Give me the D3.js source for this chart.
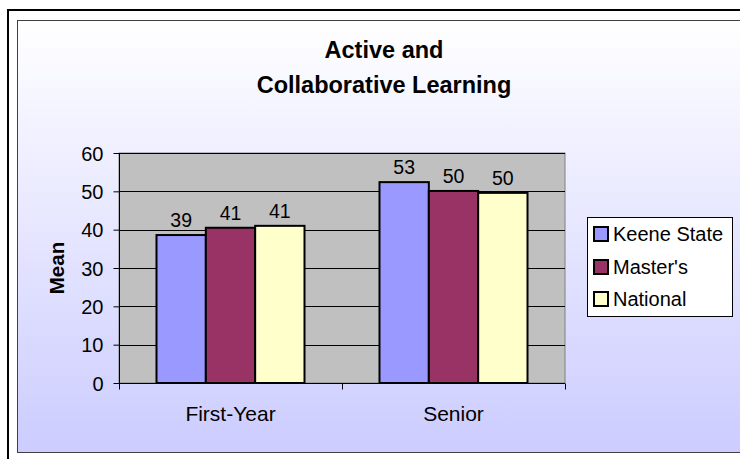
<!DOCTYPE html>
<html><head><meta charset="utf-8">
<script src="https://cdn.jsdelivr.net/npm/d3@7"></script>
<style>body{margin:0;background:#fff}svg{display:block;font-family:"Liberation Sans",Arial,sans-serif}</style>
</head><body>
<svg id="c" width="740" height="459"></svg>
<script>
const categories = ["First-Year", "Senior"];
const seriesNames = ["Keene State", "Master's", "National"];
const keeneState = [38.6, 52.4];
const masters = [40.5, 50.1];
const national = [41.0, 49.6];
const labelsKeene = ["39", "53"];
const labelsMasters = ["41", "50"];
const labelsNational = ["41", "50"];
const yTicks = [0, 10, 20, 30, 40, 50, 60];
const colors = ["#9999FF", "#993366", "#FFFFCC"];

const series = [
  {name: seriesNames[0], values: keeneState, labels: labelsKeene, color: colors[0]},
  {name: seriesNames[1], values: masters, labels: labelsMasters, color: colors[1]},
  {name: seriesNames[2], values: national, labels: labelsNational, color: colors[2]}
];

const svg = d3.select("#c");
const defs = svg.append("defs");
const grad = defs.append("linearGradient").attr("id", "bg").attr("x1", 0).attr("y1", 0).attr("x2", 0).attr("y2", 1);
grad.append("stop").attr("offset", "0%").attr("stop-color", "#FFFFFF");
grad.append("stop").attr("offset", "100%").attr("stop-color", "#CCCCFF");

// outer frame
svg.append("rect").attr("x", 8).attr("y", 10).attr("width", 760).attr("height", 470)
  .attr("fill", "#fff").attr("stroke", "#000").attr("stroke-width", 2);
// chart area
svg.append("rect").attr("x", 17.5).attr("y", 20.5).attr("width", 740).attr("height", 432)
  .attr("fill", "url(#bg)").attr("stroke", "#404040").attr("stroke-width", 1);

// title
const title = svg.append("text").attr("text-anchor", "middle").attr("font-weight", "bold")
  .attr("font-size", 23.5).attr("fill", "#000");
title.append("tspan").attr("x", 384).attr("y", 58).text("Active and");
title.append("tspan").attr("x", 384).attr("y", 93).text("Collaborative Learning");

const plotL = 119, plotR = 565, plotT = 153, plotB = 383;
const x = d3.scaleBand().domain(categories).range([plotL, plotR]);
const xs = d3.scaleBand().domain(seriesNames).range([37.5, x.bandwidth() - 37.5]);
const y = d3.scaleLinear().domain([0, 60]).range([plotB, plotT]);

// plot area
svg.append("rect").attr("x", plotL).attr("y", plotT).attr("width", plotR - plotL).attr("height", plotB - plotT)
  .attr("fill", "#C0C0C0").attr("stroke", "#808080").attr("stroke-width", 1);

// gridlines
svg.append("g").selectAll("line").data(yTicks.filter(d => d > 0)).join("line")
  .attr("x1", plotL).attr("x2", plotR)
  .attr("y1", d => Math.round(y(d)) + 0.5).attr("y2", d => Math.round(y(d)) + 0.5)
  .attr("stroke", "#000").attr("stroke-width", 1);

// bars
const g = svg.append("g");
series.forEach(s => {
  g.selectAll(null).data(categories).join("rect")
    .attr("x", c => x(c) + xs(s.name))
    .attr("y", (c, i) => y(s.values[i]))
    .attr("width", xs.bandwidth())
    .attr("height", (c, i) => y(0) - y(s.values[i]))
    .attr("fill", s.color).attr("stroke", "#000").attr("stroke-width", 2);
  g.selectAll(null).data(categories).join("text")
    .attr("x", c => x(c) + xs(s.name) + xs.bandwidth() / 2)
    .attr("y", (c, i) => y(s.values[i]) - 8)
    .attr("text-anchor", "middle").attr("font-size", 19.5).attr("fill", "#000")
    .text((c, i) => s.labels[i]);
});

// y axis
const yAxis = d3.axisLeft(y).tickValues(yTicks).tickSize(6).tickPadding(10).tickFormat(d3.format("d"));
const ya = svg.append("g").attr("transform", `translate(${plotL + 0.5},0)`).call(yAxis);
ya.select(".domain").attr("stroke", "#000").attr("d", `M0,${plotT}V${plotB}`);
ya.selectAll(".tick line").attr("stroke", "#000");
ya.selectAll(".tick text").attr("font-size", 20).attr("font-family", "Liberation Sans, Arial, sans-serif").attr("fill", "#000").attr("dy", "0.36em");

// x axis
const xa = svg.append("g").attr("transform", `translate(0,${plotB + 0.5})`);
xa.append("line").attr("x1", plotL).attr("x2", plotR).attr("stroke", "#000");
const boundaries = [plotL, x(categories[1]), plotR];
xa.selectAll(null).data(boundaries).join("line")
  .attr("x1", d => Math.round(d) + 0.5).attr("x2", d => Math.round(d) + 0.5)
  .attr("y1", 0).attr("y2", 6).attr("stroke", "#000");
xa.selectAll(null).data(categories).join("text")
  .attr("x", c => x(c) + x.bandwidth() / 2).attr("y", 37)
  .attr("text-anchor", "middle").attr("font-size", 21).attr("fill", "#000").text(c => c);

// y label
svg.append("text").attr("transform", `translate(64,${(plotT + plotB) / 2}) rotate(-90)`)
  .attr("text-anchor", "middle").attr("font-weight", "bold").attr("font-size", 20.5).attr("fill", "#000").text("Mean");

// legend
const lg = svg.append("g");
lg.append("rect").attr("x", 587.5).attr("y", 217.5).attr("width", 145).attr("height", 99)
  .attr("fill", "#fff").attr("stroke", "#000").attr("stroke-width", 1);
const rowsY = [234, 267, 299];
series.forEach((s, i) => {
  lg.append("rect").attr("x", 594).attr("y", rowsY[i] - 7).attr("width", 14).attr("height", 14)
    .attr("fill", s.color).attr("stroke", "#000").attr("stroke-width", 2);
  lg.append("text").attr("x", 613).attr("y", rowsY[i] + 7).attr("font-size", 20).attr("fill", "#000").text(s.name);
});
</script>
</body></html>
